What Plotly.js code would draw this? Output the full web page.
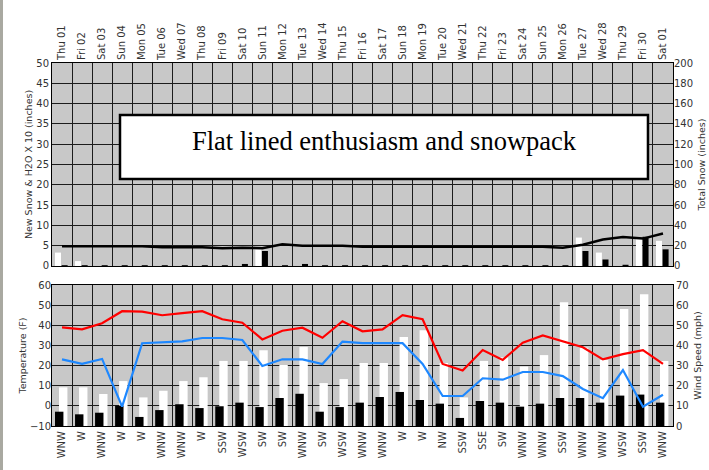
<!DOCTYPE html>
<html>
<head>
<meta charset="utf-8">
<script src="https://cdn.plot.ly/plotly-3.0.1.min.js"></script>
<style>
html,body{margin:0;padding:0;background:#fff;}
#edge{position:absolute;left:0;top:0;width:3px;height:470px;background:#a9a9a1;z-index:5;}
#chart{width:709px;height:470px;}
</style>
</head>
<body>
<div id="edge"></div>
<div id="chart"></div>
<script>
const dates = ["Thu 01","Fri 02","Sat 03","Sun 04","Mon 05","Tue 06","Wed 07","Thu 08","Fri 09","Sat 10","Sun 11","Mon 12","Tue 13","Wed 14","Thu 15","Fri 16","Sat 17","Sun 18","Mon 19","Tue 20","Wed 21","Thu 22","Fri 23","Sat 24","Sun 25","Mon 26","Tue 27","Wed 28","Thu 29","Fri 30","Sat 01"];
const windDirs = ["WNW","W","WNW","W","W","WNW","WNW","W","SSW","WSW","SW","SW","WNW","SW","WSW","WNW","WNW","W","W","NW","SSW","SSE","SW","WNW","WNW","SSW","WNW","WNW","WSW","SSW","WNW"];
const newSnow = [3.3,1.2,0,0,0,0,0,0,0,0,4.1,0,0,0,0,0,0,0,0,0,0,0,0,0,0,0,7.0,3.3,0,6.6,6.2];
const h2oX10 = [0.2,0.2,0.2,0.2,0.2,0.2,0.2,0.2,0.2,0.5,3.7,0.2,0.5,0.2,0.2,0.2,0.2,0.2,0.2,0.2,0.2,0.2,0.2,0.2,0.2,0.2,3.7,1.6,0.3,7.2,4.1];
const totalSnow = [19.5,19.5,19.5,19.5,19.5,18.5,18.5,18.5,17.5,18,17.5,21.5,20,20,20,19,19,19,19,19,19,19,19,19,19,18,21,26,28.5,27,32];
const hiTemp = [39,38,41,47,46.8,45,46,47,43,41.3,33,37.3,38.8,33.8,42,37,38,45,43,20.8,17.5,27.7,22.8,31.4,35,32.2,29.1,23.1,25.7,27.7,20.8];
const loTemp = [23.1,20.9,23.3,-0.4,31.1,31.7,32,33.7,33.7,32.7,19.8,23.1,23.1,20.8,31.9,31.1,31.1,31.1,20.8,4.9,4.9,13.7,13,16.8,16.8,14.8,8.4,3.8,17.8,-0.4,5.5];
const windGust = [19.2,19.2,15.9,22.3,14.2,17.5,22.3,24.2,32.3,32.3,37.6,30.3,39.2,21.3,23.3,31.3,31.3,44.2,47.5,31.3,14.2,32.3,34.1,29.5,35.2,61.4,38.9,32.8,58.1,65.4,32.3];
const windSpeed = [7.1,5.8,6.6,10.1,4.5,7.9,10.8,8.9,9.8,11.6,9.4,13.9,16.0,7.1,9.4,11.6,14.4,16.9,12.9,11.1,4.0,12.4,11.6,9.6,11.1,13.9,13.9,11.6,15.1,15.6,11.6];

const tickFont = {family:"DejaVu Sans", size:10, color:"#333"};
const titleFont = {family:"DejaVu Sans", size:9.5, color:"#333"};
const grid = "#1c1c1c";

const traces = [
  {type:"bar", x:dates, y:newSnow, xaxis:"x", yaxis:"y", marker:{color:"#ffffff"}, offset:-0.35, width:0.3, hoverinfo:"none"},
  {type:"bar", x:dates, y:h2oX10, xaxis:"x", yaxis:"y", marker:{color:"#000000"}, offset:-0.02, width:0.3, hoverinfo:"none"},
  {type:"scatter", mode:"lines", x:dates, y:totalSnow, xaxis:"x", yaxis:"y3", line:{color:"#000", width:2.5}, hoverinfo:"none"},
  {type:"bar", x:dates, y:windGust, xaxis:"x2", yaxis:"y2", marker:{color:"#ffffff"}, offset:-0.15, width:0.42, hoverinfo:"none"},
  {type:"bar", x:dates, y:windSpeed, xaxis:"x2", yaxis:"y2", marker:{color:"#000000"}, offset:-0.35, width:0.42, hoverinfo:"none"},
  {type:"scatter", mode:"lines", x:dates, y:hiTemp, xaxis:"x2", yaxis:"y4", line:{color:"#ff0000", width:2.2}, hoverinfo:"none"},
  {type:"scatter", mode:"lines", x:dates, y:loTemp, xaxis:"x2", yaxis:"y4", line:{color:"#1e88ff", width:2.2}, hoverinfo:"none"}
];

const layout = {
  width:709, height:470,
  margin:{l:52, r:36, t:63, b:44},
  paper_bgcolor:"#ffffff", plot_bgcolor:"#c8c8c8",
  showlegend:false,
  barmode:"overlay",
  title:{text:"Flat lined enthusiasm and snowpack", font:{family:"Liberation Serif", size:26.5, color:"#000"}, x:0.5416, xanchor:"center", y:0.70, yanchor:"middle"},
  xaxis:{domain:[0,1], anchor:"y", side:"top", type:"category", tickangle:-90, tickson:"boundaries", ticks:"", showgrid:true, gridcolor:grid, gridwidth:1, showline:true, mirror:true, linecolor:"#000", linewidth:1, tickfont:tickFont},
  yaxis:{domain:[0.4408,1], anchor:"x", range:[0,50], dtick:5, ticks:"", showgrid:true, gridcolor:grid, zeroline:false, showline:true, mirror:true, linecolor:"#000", tickfont:tickFont, title:{text:"New Snow & H2O X 10 (inches)", font:titleFont, standoff:1}},
  yaxis3:{overlaying:"y", anchor:"x", side:"right", range:[0,200], dtick:20, ticks:"", showgrid:false, zeroline:false, tickfont:tickFont, title:{text:"Total Snow (inches)", font:titleFont, standoff:6}},
  xaxis2:{domain:[0,1], anchor:"y2", side:"bottom", type:"category", tickmode:"array", tickvals:dates, ticktext:windDirs, tickangle:-90, tickson:"boundaries", ticks:"", showgrid:true, gridcolor:grid, gridwidth:1, showline:true, mirror:true, linecolor:"#000", tickfont:tickFont},
  yaxis2:{domain:[0,0.3884], anchor:"x2", side:"right", range:[0,70], dtick:10, ticks:"", showgrid:true, gridcolor:grid, zeroline:false, showline:true, mirror:true, linecolor:"#000", tickfont:tickFont, title:{text:"Wind Speed (mph)", font:titleFont, standoff:6}},
  yaxis4:{overlaying:"y2", anchor:"x2", side:"left", range:[-10,60], dtick:10, ticks:"", showgrid:false, zeroline:false, tickfont:tickFont, title:{text:"Temperature (F)", font:titleFont, standoff:1}},
  shapes:[{type:"rect", xref:"paper", yref:"paper", x0:0.1095, x1:0.9597, y0:0.6804, y1:0.8567, fillcolor:"#ffffff", line:{color:"#000", width:2.5}, layer:"above"}]
};

Plotly.newPlot("chart", traces, layout, {staticPlot:true, displayModeBar:false});
</script>
</body>
</html>
